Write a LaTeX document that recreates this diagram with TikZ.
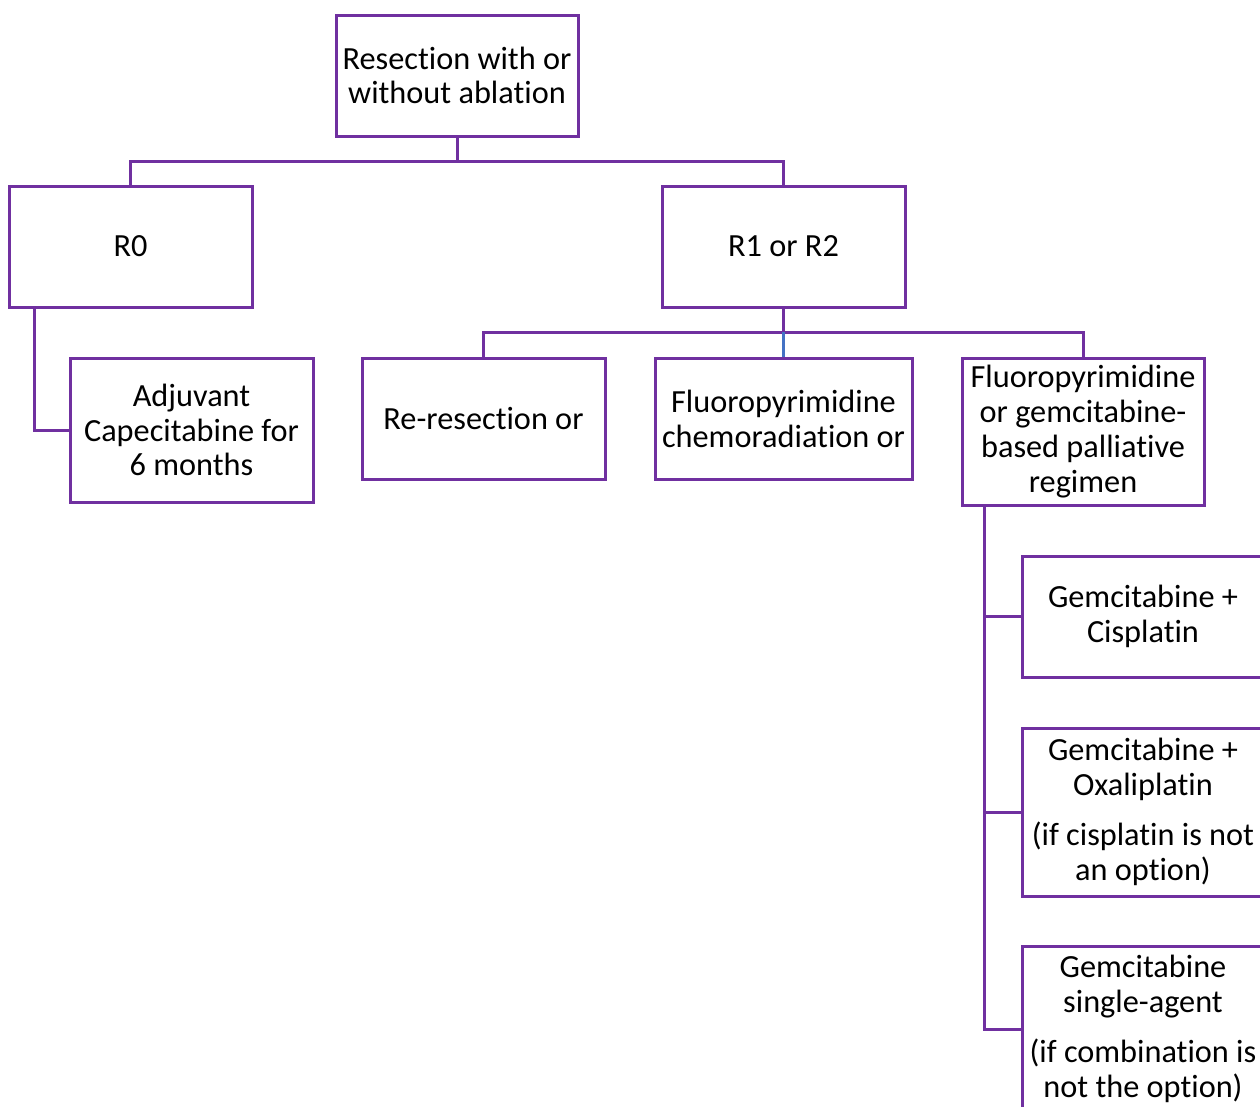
\documentclass[tikz,border=0pt]{standalone}
\usepackage{fontspec}
\setmainfont{Carlito}[Ligatures={NoCommon}]
\definecolor{boxc}{HTML}{7030A0}
\definecolor{bluec}{HTML}{4472C4}
\begin{document}
\begin{tikzpicture}[x=1pt,y=-1pt,
  box/.style={draw=boxc, line width=3pt, fill=white, align=center, inner sep=0pt,
    font=\fontsize{32.3}{34.8}\selectfont, text=black},
  conn/.style={draw=boxc, line width=3pt},
  bconn/.style={draw=bluec, line width=3pt}]
\useasboundingbox (0,0) rectangle (1260,1106);
\clip (0,0) rectangle (1260,1106);
\coordinate (j1) at (457,161);
\coordinate (j2) at (783.5,332);
\node[box, minimum width=242pt, minimum height=121pt] (top) at (457,75.5) {Resection with or\\without ablation};
\node[box, minimum width=243pt, minimum height=121pt] (r0) at (130.5,246.5) {R0};
\node[box, minimum width=243pt, minimum height=121pt] (r12) at (783.5,246.5) {R1 or R2};
\node[box, minimum width=243pt, minimum height=144pt] (adj) at (191.5,430) {Adjuvant\\Capecitabine for\\6 months};
\node[box, minimum width=243pt, minimum height=121pt] (rer) at (483.5,418.5) {Re-resection or};
\node[box, minimum width=257pt, minimum height=121pt] (chem) at (783.5,418.5) {Fluoropyrimidine\\chemoradiation or};
\node[box, minimum width=242pt, minimum height=147pt] (pal) at (1083,431.5) {Fluoropyrimidine\\or gemcitabine-\\based palliative\\regimen};
\node[box, minimum width=242pt, minimum height=121pt] (gc) at (1143,616.5) {Gemcitabine +\\Cisplatin};
\node[box, minimum width=242pt, minimum height=168pt] (go) at (1143,812) {Gemcitabine +\\Oxaliplatin\\[15pt](if cisplatin is not\\an option)};
\node[box, minimum width=242pt, minimum height=166pt] (gs) at (1143,1029) {Gemcitabine\\single-agent\\[15pt](if combination is\\not the option)};
\draw[conn] (top.south) -- (j1) -| (r0.north);
\draw[conn] (j1) -| (r12.north);
\draw[conn] ([xshift=-96.5pt]r0.south) |- (adj.west);
\draw[conn] (r12.south) -- (j2) -| (rer.north);
\draw[conn] (j2) -| (pal.north);
\draw[bconn] (j2) -- (chem.north);
\draw[conn] ([xshift=24pt]pal.south west) |- (gc.west);
\draw[conn] ([xshift=24pt]pal.south west) |- (go.west);
\draw[conn] ([xshift=24pt]pal.south west) |- (gs.west);
\end{tikzpicture}
\end{document}
